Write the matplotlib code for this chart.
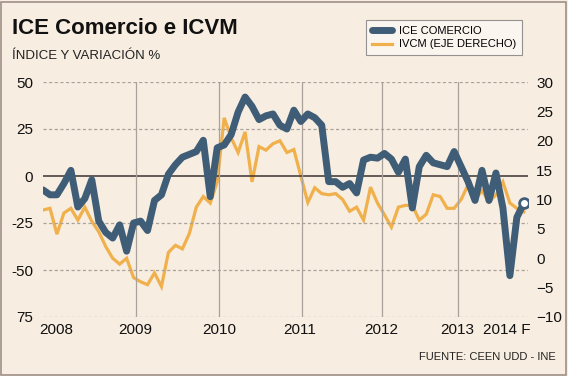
import numpy as np
import matplotlib.pyplot as plt
from matplotlib.patches import Rectangle

# ICE Comercio (left axis), monthly from Jan 2008
ice = [-7.4, -10, -10, -4, 3, -16.5, -12, -2, -24, -30,
       -33, -26, -40, -25, -24, -29, -13, -10, 1, 6,
       10, 11.5, 13, 19, -11, 15, 16.5, 22, 34, 42,
       37, 30, 32, 33, 27, 25, 35, 29, 33, 31,
       27, -3, -3, -6, -4, -9, 8.5, 10, 9.5, 12,
       9, 2, 9, -17, 5, 11, 7, 6, 5, 13,
       5, -3, -13, 3, -13, 1.6, -17, -53, -22, -14.5]

# IVCM (right axis)
ivcm = [8.2, 8.5, 4.1, 7.7, 8.5, 6.5, 8.7, 6.3, 4.5, 2,
        0, -1, 0, -3.3, -4, -4.5, -2.5, -4.8, 1, 2.2,
        1.6, 4.2, 8.7, 10.5, 9.4, 13, 23.9, 20.5, 18, 21.5,
        13, 19, 18.4, 19.5, 20, 18, 18.5, 14, 9.5, 12,
        11, 10.8, 11, 10, 8, 8.7, 6.5, 12.1, 9.4, 7.4,
        5.3, 8.7, 9, 9, 6.5, 7.5, 10.8, 10.5, 8.5, 8.5,
        10, 12.5, 10, 11.5, 9.6, 10.8, 13, 9.4, 8.5, 7.9]

year_lines = [13.3, 25.3, 37.2, 48.6, 59.5]
xtick_pos = [1.9, 13.3, 25.3, 36.9, 48.6, 59.4, 66.6]
xtick_labels = ['2008', '2009', '2010', '2011', '2012', '2013', '2014 F']
left_ticks = [50, 25, 0, -25, -50, -75]
left_labels = ['50', '25', '0', '-25', '-50', '75']
right_ticks = [30, 25, 20, 15, 10, 5, 0, -5, -10]

bg = '#f7ede0'
blue = '#3f5d76'
orange = '#f0b04c'

plt.rcParams['font.family'] = ['Liberation Sans', 'DejaVu Sans']

fig = plt.figure(figsize=(5.68, 3.76), dpi=100, facecolor=bg)
fig.patches.append(Rectangle((0.002, 0.003), 0.995, 0.993, transform=fig.transFigure,
                             fill=False, edgecolor='#a09088', linewidth=1.2))

W, H = 568, 376
ax = fig.add_axes([43 / W, (H - 317) / H, (528 - 43) / W, (317 - 82) / H])
ax.set_facecolor(bg)
ax2 = ax.twinx()

x = np.arange(len(ice))

for y in [50, 25, -25, -50, -75]:
    ax.axhline(y, color='#a8a29a', linestyle=(0, (2.5, 2)), linewidth=0.9, zorder=1)
ax.axhline(0, color='#3a3530', linewidth=1.1, zorder=1)
for xv in year_lines:
    ax.axvline(xv, color='#a8a29a', linewidth=0.9, zorder=1)

ax2.plot(x, ivcm, color=orange, linewidth=2.3, zorder=2, solid_joinstyle='miter')
ax.plot(x, ice, color=blue, linewidth=5, zorder=3, solid_capstyle='round', solid_joinstyle='round')
ax.plot(x[-1], ice[-1], 'o', markersize=7, markerfacecolor='white',
        markeredgecolor=blue, markeredgewidth=2, zorder=4)
ax.set_zorder(ax2.get_zorder() + 1)
ax.patch.set_visible(False)
ax2.patch.set_visible(True)
ax2.patch.set_facecolor(bg)

ax.set_xlim(0, 69.6)
ax.set_ylim(-75, 50)
ax2.set_ylim(-10, 30)

ax.set_yticks(left_ticks)
ax.set_yticklabels(left_labels)
ax2.set_yticks(right_ticks)
ax.set_xticks(xtick_pos)
ax.set_xticklabels(xtick_labels)

for a in (ax, ax2):
    for s in a.spines.values():
        s.set_visible(False)
    a.tick_params(length=0, labelsize=11, colors='#111111')
ax.tick_params(axis='y', pad=7)
ax2.tick_params(axis='y', pad=6)
ax.tick_params(axis='x', pad=4)

fig.text(12 / W, 1 - 34 / H, 'ICE Comercio e ICVM', fontsize=16, fontweight='bold',
         color='#111111', va='baseline')
fig.text(12 / W, 1 - 59 / H, 'ÍNDICE Y VARIACIÓN %', fontsize=9.5, color='#222222',
         va='baseline')
fig.text(556 / W, 1 - 360 / H, 'FUENTE: CEEN UDD - INE', fontsize=8, color='#222222',
         ha='right', va='baseline')

h1, = ax.plot([], [], color=blue, linewidth=5, solid_capstyle='round')
h2, = ax.plot([], [], color=orange, linewidth=2.3)
leg = fig.legend([h1, h2], ['ICE COMERCIO', 'IVCM (EJE DERECHO)'],
                 loc='upper left', bbox_to_anchor=(366 / W, 1 - 20 / H),
                 borderaxespad=0, fontsize=8, frameon=True, fancybox=False,
                 handlelength=1.8, borderpad=0.5, labelspacing=0.35, handletextpad=0.7)
leg.get_frame().set_facecolor('#fcf8f2')
leg.get_frame().set_edgecolor('#7a7a7a')
leg.get_frame().set_linewidth(0.8)

plt.savefig('out.png', dpi=100, facecolor=bg)
